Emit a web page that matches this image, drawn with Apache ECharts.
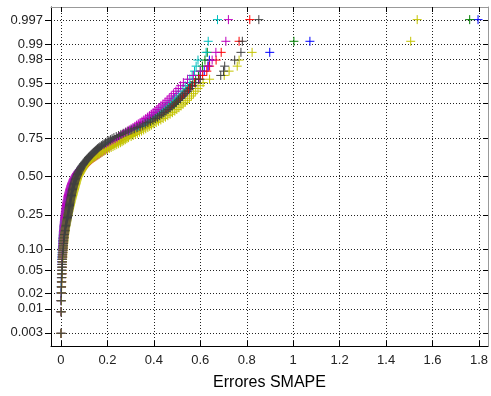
<!DOCTYPE html>
<html><head><meta charset="utf-8">
<script src="https://cdn.jsdelivr.net/npm/echarts@6/dist/echarts.min.js"></script>
<style>html,body{margin:0;padding:0;background:#fff}#c{width:491px;height:396px}</style>
</head><body><div id="c"></div>
<script>
// Sorted SMAPE errors per series (normal probability plot, rank -> plotting position)
const seriesNames = ['b','g','r','c','m','y','k'];
const seriesColors = ['#0000FF','#008000','#FF0000','#00BFBF','#BF00BF','#C4C400','#404040'];

const errB = [0.000,0.000,0.001,0.001,0.002,0.002,0.002,0.003,0.003,0.004,
0.004,0.004,0.005,0.005,0.006,0.006,0.007,0.007,0.007,0.008,
0.008,0.009,0.009,0.010,0.010,0.011,0.011,0.012,0.013,0.013,
0.014,0.014,0.015,0.016,0.016,0.017,0.018,0.018,0.019,0.020,
0.020,0.021,0.022,0.022,0.023,0.024,0.025,0.025,0.026,0.027,
0.028,0.028,0.029,0.030,0.031,0.032,0.033,0.034,0.034,0.035,
0.036,0.037,0.038,0.039,0.040,0.041,0.042,0.043,0.044,0.045,
0.046,0.047,0.048,0.049,0.050,0.052,0.053,0.054,0.055,0.057,
0.058,0.060,0.061,0.063,0.064,0.066,0.068,0.069,0.071,0.073,
0.075,0.077,0.080,0.082,0.084,0.087,0.090,0.093,0.096,0.099,
0.102,0.106,0.110,0.114,0.118,0.122,0.126,0.130,0.135,0.140,
0.145,0.150,0.155,0.160,0.166,0.172,0.178,0.184,0.190,0.196,
0.202,0.208,0.214,0.220,0.226,0.232,0.239,0.246,0.253,0.260,
0.268,0.276,0.284,0.292,0.301,0.310,0.320,0.330,0.341,0.352,
0.362,0.371,0.380,0.389,0.398,0.407,0.416,0.425,0.434,0.443,
0.452,0.461,0.470,0.479,0.488,0.497,0.506,0.515,0.524,0.533,
0.543,0.553,0.564,0.576,0.592,0.600,0.617,0.634,0.639,0.899,1.072,1.796];

const errG = [0.000,0.001,0.001,0.001,0.002,0.002,0.003,0.003,0.003,0.004,
0.004,0.005,0.005,0.006,0.006,0.006,0.007,0.007,0.008,0.008,
0.009,0.009,0.010,0.010,0.011,0.011,0.012,0.012,0.013,0.014,
0.014,0.015,0.015,0.016,0.017,0.017,0.018,0.019,0.019,0.020,
0.021,0.021,0.022,0.023,0.024,0.024,0.025,0.026,0.027,0.027,
0.028,0.029,0.030,0.031,0.032,0.032,0.033,0.034,0.035,0.036,
0.037,0.038,0.039,0.040,0.041,0.042,0.043,0.044,0.045,0.046,
0.047,0.048,0.049,0.050,0.051,0.052,0.054,0.055,0.056,0.057,
0.059,0.060,0.062,0.063,0.065,0.066,0.068,0.070,0.072,0.074,
0.076,0.078,0.080,0.082,0.085,0.087,0.090,0.093,0.096,0.099,
0.102,0.105,0.109,0.113,0.117,0.121,0.125,0.129,0.133,0.138,
0.143,0.148,0.153,0.158,0.164,0.170,0.176,0.182,0.188,0.194,
0.200,0.206,0.212,0.218,0.224,0.231,0.238,0.245,0.252,0.259,
0.267,0.275,0.283,0.291,0.300,0.309,0.318,0.328,0.338,0.348,
0.358,0.367,0.376,0.385,0.394,0.403,0.412,0.421,0.430,0.439,
0.448,0.457,0.466,0.475,0.484,0.493,0.502,0.511,0.520,0.529,
0.538,0.548,0.558,0.568,0.580,0.592,0.600,0.609,0.620,0.630,1.003,1.760];

const errR = [0.000,0.001,0.001,0.002,0.002,0.003,0.003,0.004,0.004,0.005,
0.005,0.006,0.006,0.007,0.007,0.008,0.008,0.009,0.009,0.010,
0.010,0.011,0.011,0.012,0.012,0.013,0.013,0.014,0.015,0.015,
0.016,0.016,0.017,0.018,0.018,0.019,0.020,0.020,0.021,0.022,
0.022,0.023,0.024,0.025,0.025,0.026,0.027,0.028,0.028,0.029,
0.030,0.031,0.032,0.032,0.033,0.034,0.035,0.036,0.037,0.038,
0.039,0.040,0.041,0.042,0.043,0.044,0.045,0.046,0.047,0.048,
0.049,0.050,0.051,0.052,0.053,0.055,0.056,0.057,0.058,0.060,
0.061,0.063,0.064,0.066,0.067,0.069,0.071,0.073,0.075,0.077,
0.079,0.081,0.084,0.086,0.089,0.092,0.095,0.098,0.101,0.104,
0.108,0.112,0.116,0.120,0.124,0.128,0.132,0.137,0.142,0.147,
0.152,0.157,0.162,0.167,0.172,0.177,0.182,0.188,0.194,0.200,
0.206,0.212,0.218,0.224,0.230,0.236,0.242,0.248,0.254,0.260,
0.266,0.273,0.281,0.289,0.297,0.306,0.315,0.324,0.333,0.343,
0.352,0.361,0.370,0.379,0.388,0.397,0.406,0.415,0.424,0.433,
0.442,0.451,0.460,0.469,0.478,0.488,0.498,0.508,0.518,0.528,
0.538,0.549,0.561,0.575,0.595,0.610,0.628,0.640,0.668,0.690,0.767,0.813];

const errC = [0.000,0.000,0.001,0.001,0.001,0.002,0.002,0.002,0.003,0.003,
0.003,0.004,0.004,0.004,0.005,0.005,0.005,0.006,0.006,0.007,
0.007,0.007,0.008,0.008,0.009,0.009,0.010,0.010,0.011,0.011,
0.012,0.012,0.013,0.013,0.014,0.015,0.015,0.016,0.016,0.017,
0.018,0.018,0.019,0.020,0.020,0.021,0.022,0.023,0.023,0.024,
0.025,0.026,0.026,0.027,0.028,0.029,0.030,0.031,0.031,0.032,
0.033,0.034,0.035,0.036,0.037,0.038,0.039,0.040,0.041,0.042,
0.043,0.044,0.045,0.046,0.047,0.048,0.050,0.051,0.052,0.053,
0.055,0.056,0.058,0.059,0.061,0.062,0.064,0.066,0.068,0.070,
0.072,0.074,0.076,0.079,0.081,0.084,0.087,0.090,0.093,0.096,
0.100,0.104,0.108,0.112,0.116,0.120,0.124,0.128,0.132,0.137,
0.142,0.147,0.152,0.157,0.162,0.167,0.172,0.178,0.184,0.190,
0.196,0.202,0.208,0.214,0.220,0.226,0.232,0.238,0.244,0.250,
0.257,0.264,0.272,0.280,0.288,0.296,0.305,0.314,0.324,0.334,
0.344,0.352,0.360,0.368,0.376,0.384,0.392,0.400,0.408,0.417,
0.426,0.435,0.444,0.453,0.462,0.471,0.480,0.489,0.498,0.507,
0.516,0.525,0.535,0.545,0.555,0.565,0.575,0.582,0.590,0.625,0.634,0.674];

const errM = [0.000,0.000,0.001,0.001,0.002,0.002,0.002,0.003,0.003,0.004,
0.004,0.004,0.005,0.005,0.005,0.006,0.006,0.006,0.007,0.007,
0.007,0.008,0.008,0.008,0.009,0.009,0.010,0.010,0.010,0.011,
0.011,0.012,0.012,0.013,0.013,0.014,0.014,0.015,0.015,0.016,
0.016,0.017,0.017,0.018,0.018,0.019,0.019,0.020,0.020,0.021,
0.022,0.022,0.023,0.024,0.024,0.025,0.026,0.026,0.027,0.028,
0.029,0.029,0.030,0.031,0.032,0.033,0.034,0.035,0.036,0.037,
0.038,0.039,0.040,0.041,0.042,0.043,0.045,0.046,0.047,0.049,
0.050,0.052,0.053,0.055,0.057,0.059,0.061,0.063,0.065,0.067,
0.070,0.072,0.075,0.078,0.081,0.084,0.087,0.090,0.094,0.098,
0.102,0.106,0.110,0.115,0.120,0.125,0.130,0.135,0.140,0.146,
0.152,0.158,0.164,0.170,0.176,0.182,0.188,0.194,0.200,0.206,
0.210,0.214,0.218,0.222,0.226,0.230,0.234,0.238,0.242,0.246,
0.252,0.258,0.265,0.272,0.279,0.286,0.294,0.302,0.310,0.318,
0.325,0.333,0.341,0.349,0.357,0.365,0.373,0.381,0.389,0.397,
0.405,0.413,0.421,0.430,0.439,0.448,0.457,0.466,0.475,0.485,
0.495,0.505,0.515,0.527,0.545,0.570,0.600,0.632,0.651,0.667,0.710,0.721];

const errY = [0.000,0.001,0.002,0.002,0.003,0.003,0.004,0.004,0.005,0.005,
0.006,0.006,0.007,0.008,0.008,0.009,0.009,0.010,0.011,0.011,
0.012,0.013,0.013,0.014,0.015,0.015,0.016,0.017,0.018,0.019,
0.019,0.020,0.021,0.022,0.023,0.024,0.025,0.026,0.026,0.027,
0.028,0.029,0.030,0.031,0.032,0.033,0.034,0.035,0.036,0.037,
0.038,0.039,0.040,0.041,0.042,0.043,0.044,0.045,0.046,0.047,
0.048,0.049,0.050,0.051,0.052,0.053,0.054,0.055,0.056,0.057,
0.058,0.059,0.060,0.061,0.062,0.063,0.064,0.065,0.066,0.067,
0.068,0.069,0.070,0.071,0.072,0.074,0.076,0.078,0.080,0.082,
0.084,0.086,0.088,0.090,0.092,0.094,0.096,0.098,0.100,0.103,
0.106,0.110,0.114,0.118,0.122,0.127,0.132,0.137,0.142,0.148,
0.154,0.160,0.166,0.172,0.178,0.185,0.192,0.200,0.208,0.216,
0.224,0.232,0.240,0.248,0.256,0.263,0.270,0.277,0.284,0.291,
0.302,0.311,0.320,0.329,0.338,0.347,0.356,0.365,0.374,0.382,
0.390,0.400,0.410,0.420,0.430,0.440,0.450,0.460,0.470,0.480,
0.490,0.499,0.508,0.517,0.526,0.535,0.544,0.553,0.562,0.571,
0.580,0.590,0.600,0.612,0.640,0.703,0.724,0.759,0.767,0.823,1.506,1.534];

const errK = [0.000,0.001,0.001,0.002,0.002,0.003,0.003,0.004,0.004,0.005,
0.005,0.006,0.006,0.007,0.007,0.008,0.009,0.010,0.010,0.011,
0.011,0.012,0.012,0.013,0.014,0.014,0.015,0.016,0.017,0.018,
0.018,0.019,0.020,0.021,0.022,0.023,0.024,0.025,0.026,0.027,
0.028,0.029,0.030,0.030,0.031,0.032,0.033,0.033,0.034,0.035,
0.035,0.036,0.037,0.037,0.038,0.039,0.039,0.040,0.041,0.042,
0.042,0.043,0.044,0.045,0.045,0.046,0.047,0.048,0.048,0.049,
0.050,0.051,0.052,0.053,0.054,0.055,0.056,0.057,0.058,0.059,
0.060,0.061,0.062,0.064,0.065,0.067,0.068,0.070,0.071,0.073,
0.074,0.076,0.078,0.080,0.082,0.084,0.086,0.088,0.090,0.093,
0.096,0.098,0.101,0.104,0.107,0.110,0.113,0.116,0.119,0.122,
0.126,0.130,0.134,0.138,0.142,0.146,0.150,0.154,0.158,0.163,
0.168,0.174,0.180,0.186,0.192,0.199,0.206,0.213,0.220,0.228,
0.238,0.248,0.258,0.268,0.279,0.290,0.302,0.315,0.328,0.340,
0.352,0.363,0.374,0.385,0.396,0.406,0.416,0.425,0.434,0.443,
0.452,0.461,0.470,0.479,0.488,0.497,0.506,0.515,0.524,0.534,
0.544,0.555,0.566,0.580,0.600,0.688,0.700,0.705,0.748,0.775,0.781,0.852];

const seriesData = [errB, errG, errR, errC, errM, errY, errK];

const xTicks = [0, 0.2, 0.4, 0.6, 0.8, 1.0, 1.2, 1.4, 1.6, 1.8];
const yTickProbs = [0.003, 0.01, 0.02, 0.05, 0.10, 0.25, 0.50, 0.75, 0.90, 0.95, 0.98, 0.99, 0.997];
const yTickLabels = ['0.003','0.01','0.02','0.05','0.10','0.25','0.50','0.75','0.90','0.95','0.98','0.99','0.997'];
const xTitle = 'Errores SMAPE';

// inverse standard normal CDF (Acklam)
function norminv(p) {
  const a=[-3.969683028665376e+01,2.209460984245205e+02,-2.759285104469687e+02,1.383577518672690e+02,-3.066479806614716e+01,2.506628277459239e+00];
  const b=[-5.447609879822406e+01,1.615858368580409e+02,-1.556989798598866e+02,6.680131188771972e+01,-1.328068155288572e+01];
  const c=[-7.784894002430293e-03,-3.223964580411365e-01,-2.400758277161838e+00,-2.549732539343734e+00,4.374664141464968e+00,2.938163982698783e+00];
  const d=[7.784695709041462e-03,3.224671290700398e-01,2.445134137142996e+00,3.754408661907416e+00];
  const pl=0.02425, ph=1-pl; let q,r;
  if (p<pl){q=Math.sqrt(-2*Math.log(p));return (((((c[0]*q+c[1])*q+c[2])*q+c[3])*q+c[4])*q+c[5])/((((d[0]*q+d[1])*q+d[2])*q+d[3])*q+1);}
  if (p<=ph){q=p-0.5;r=q*q;return (((((a[0]*r+a[1])*r+a[2])*r+a[3])*r+a[4])*r+a[5])*q/(((((b[0]*r+b[1])*r+b[2])*r+b[3])*r+b[4])*r+1);}
  q=Math.sqrt(-2*Math.log(1-p));return -(((((c[0]*q+c[1])*q+c[2])*q+c[3])*q+c[4])*q+c[5])/((((d[0]*q+d[1])*q+d[2])*q+d[3])*q+1);
}

const yTickZ = yTickProbs.map(norminv);
function yLabel(v){ let best=0; for(let i=1;i<yTickZ.length;i++){ if(Math.abs(yTickZ[i]-v)<Math.abs(yTickZ[best]-v)) best=i; } return yTickLabels[best]; }

const font = 'Liberation Sans, Arial, Helvetica, sans-serif';
const plus = 'path://M0,5H10M5,0V10';

const series = seriesData.map((arr, si) => {
  const n = arr.length;
  return {
    type: 'scatter', name: seriesNames[si],
    symbol: plus, symbolSize: 9,
    itemStyle: { color: 'none', borderColor: seriesColors[si], borderWidth: 1, opacity: 1 },
    emphasis: { disabled: true },
    data: arr.map((v, i) => [v, norminv((i + 0.5) / n)])
  };
});

const chart = echarts.init(document.getElementById('c'), null, { renderer: 'canvas' });
const xMin = -0.043, xMax = 1.839, zLim = 2.98;
chart.setOption({
  animation: false,
  backgroundColor: '#fff',
  grid: { left: 51, top: 7, width: 439, height: 347, containLabel: false },
  xAxis: [{
    type: 'value', min: xMin, max: xMax, position: 'bottom',
    name: xTitle, nameLocation: 'middle', nameGap: 29,
    nameTextStyle: { fontFamily: font, fontSize: 16, color: '#000' },
    axisLine: { show: true, onZero: false, lineStyle: { color: '#000', width: 1 } },
    axisTick: { show: true, inside: true, length: 5, customValues: xTicks, lineStyle: { color: '#000' } },
    axisLabel: { customValues: xTicks, margin: 8, fontFamily: font, fontSize: 13, color: '#222',
      formatter: v => String(+(+v).toFixed(1)) },
    splitLine: { show: true, lineStyle: { color: '#222', type: [1, 2], width: 1 } }
  }, {
    type: 'value', min: xMin, max: xMax, position: 'top',
    axisLine: { show: true, onZero: false, lineStyle: { color: '#999', width: 1 } },
    axisTick: { show: true, inside: true, length: 5, customValues: xTicks, lineStyle: { color: '#000' } },
    axisLabel: { show: false }, splitLine: { show: false }
  }],
  yAxis: [{
    type: 'value', min: -zLim, max: zLim, position: 'left',
    axisLine: { show: true, onZero: false, lineStyle: { color: '#000', width: 1 } },
    axisTick: { show: true, inside: false, length: 6, customValues: yTickZ, lineStyle: { color: '#000' } },
    axisLabel: { customValues: yTickZ, margin: 8, fontFamily: font, fontSize: 13, color: '#222',
      formatter: v => yLabel(v) },
    splitLine: { show: true, lineStyle: { color: '#222', type: [1, 2], width: 1 } }
  }, {
    type: 'value', min: -zLim, max: zLim, position: 'right',
    axisLine: { show: true, onZero: false, lineStyle: { color: '#999', width: 1 } },
    axisTick: { show: true, inside: true, length: 5, customValues: yTickZ, lineStyle: { color: '#000' } },
    axisLabel: { show: false }, splitLine: { show: false }
  }],
  series: series
});
</script></body></html>
